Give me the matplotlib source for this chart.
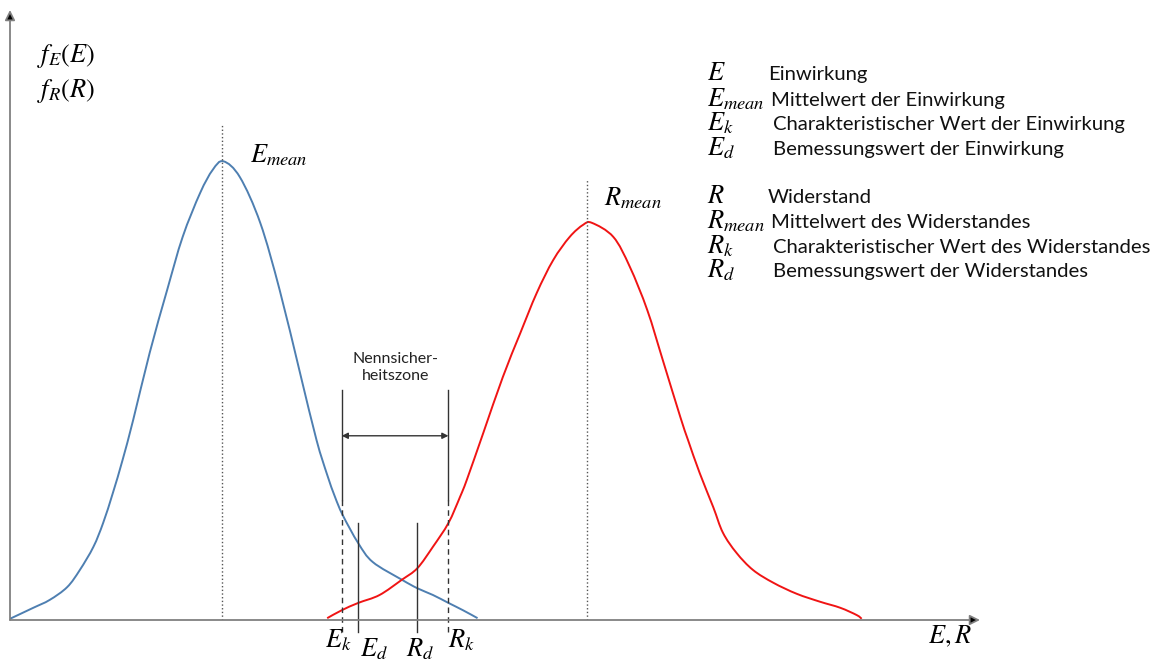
"""Einwirkung / Widerstand - Verteilungsdichten mit Nennsicherheitszone"""
import matplotlib
matplotlib.use("Agg")
import matplotlib.pyplot as plt
from matplotlib.path import Path
from matplotlib.patches import PathPatch

plt.rcParams['mathtext.fontset'] = 'stix'
plt.rcParams['font.family'] = ['Lato', 'DejaVu Sans']

# curve values (x in E,R units 0..100, y density)
e_x = [0, 2.4, 4.1, 5.9, 7.2, 8.6, 9.6, 10.6, 11.6, 12.7, 14.4, 16.2, 17.8, 19.6,
       20.9, 22.0, 23.7, 25.8, 27.8, 29.9, 31.6, 32.7, 33.5, 34.3, 35.9, 37.4, 40.4,
       42.0, 43.6, 45.2, 46.7, 48.2]
e_y = [0.002, 0.020, 0.033, 0.054, 0.082, 0.120, 0.159, 0.208, 0.262, 0.328, 0.438,
       0.541, 0.628, 0.700, 0.738, 0.752, 0.726, 0.651, 0.541, 0.405, 0.295, 0.238,
       0.202, 0.172, 0.126, 0.095, 0.066, 0.052, 0.041, 0.028, 0.016, 0.003]

r_x = [32.7, 34.2, 35.9, 38.1, 40.4, 42.0, 43.6, 45.2, 46.4, 47.1, 48.8, 50.8, 52.6,
       54.3, 56.0, 57.7, 59.1, 60.0, 62.2, 63.9, 65.7, 67.3, 69.1, 69.9, 71.1, 72.5,
       73.5, 74.9, 76.6, 78.7, 81.1, 83.5, 85.6, 87.3, 87.8]
r_y = [0.003, 0.016, 0.028, 0.041, 0.066, 0.085, 0.120, 0.159, 0.202, 0.230, 0.307,
       0.398, 0.470, 0.536, 0.590, 0.628, 0.648, 0.651, 0.628, 0.579, 0.508, 0.426,
       0.333, 0.295, 0.241, 0.185, 0.143, 0.110, 0.082, 0.061, 0.043, 0.030, 0.020,
       0.008, 0.002]

e_mean, r_mean = 21.9, 59.5
e_k, e_d, r_d, r_k = 34.2, 35.9, 42.0, 45.2

legend_sym = [r'$E$', r'$E_{mean}$', r'$E_k$', r'$E_d$',
              r'$R$', r'$R_{mean}$', r'$R_k$', r'$R_d$']
legend_txt = ['Einwirkung', 'Mittelwert der Einwirkung',
              'Charakteristischer Wert der Einwirkung', 'Bemessungswert der Einwirkung',
              'Widerstand', 'Mittelwert des Widerstandes',
              'Charakteristischer Wert des Widerstandes', 'Bemessungswert der Widerstandes']

W, H = 1172, 664


def px(x, y):
    return x / W, 1 - y / H


def smooth_path(xs, ys):
    # Catmull-Rom through the read points, drawn as cubic Bezier segments
    pts = list(zip(xs, ys))
    verts = [pts[0]]
    codes = [Path.MOVETO]
    for i in range(len(pts) - 1):
        p0 = pts[i - 1] if i > 0 else pts[i]
        p1, p2 = pts[i], pts[i + 1]
        p3 = pts[i + 2] if i + 2 < len(pts) else pts[i + 1]
        c1 = (p1[0] + (p2[0] - p0[0]) / 6, p1[1] + (p2[1] - p0[1]) / 6)
        c2 = (p2[0] - (p3[0] - p1[0]) / 6, p2[1] - (p3[1] - p1[1]) / 6)
        verts += [c1, c2, p2]
        codes += [Path.CURVE4] * 3
    return Path(verts, codes)


fig = plt.figure(figsize=(W / 100, H / 100), dpi=100)
ax = fig.add_axes([10 / W, (H - 620) / H, 970 / W, 610 / H])
ax.set_xlim(0, 100)
ax.set_ylim(0, 1)
ax.axis('off')

# axes with arrows
for tip in [(1.0, 0), (0, 1.0)]:
    ax.annotate('', xy=tip, xytext=(0, 0), xycoords='axes fraction',
                arrowprops=dict(arrowstyle='-|>', lw=1.3, mutation_scale=15,
                                shrinkA=0, shrinkB=0, fc='black', ec='#808080'))

ax.add_patch(PathPatch(smooth_path(e_x, e_y), fc='none', ec='#4e7fb1', lw=1.4))
ax.add_patch(PathPatch(smooth_path(r_x, r_y), fc='none', ec='#f01414', lw=1.4))

# mean lines
ax.plot([e_mean, e_mean], [0, 0.811], ':', color='#555555', lw=1)
ax.plot([r_mean, r_mean], [0, 0.721], ':', color='#555555', lw=1)

# characteristic / design values
for xv in (e_k, r_k):
    ax.plot([xv, xv], [0.197, 0.377], color='#333333', lw=1)
    ax.plot([xv, xv], [-0.02, 0.197], '--', color='#333333', lw=1, clip_on=False,
            dashes=(4, 3))
for xv in (e_d, r_d):
    ax.plot([xv, xv], [-0.02, 0.159], color='#333333', lw=1, clip_on=False)

ax.annotate('', xy=(r_k, 0.302), xytext=(e_k, 0.302),
            arrowprops=dict(arrowstyle='<|-|>', color='#333333', lw=1,
                            mutation_scale=9, shrinkA=0, shrinkB=0))
ax.text((e_k + r_k) / 2, 0.388, 'Nennsicher-\nheitszone', ha='center', va='bottom',
        fontsize=11.5, color='#222222', linespacing=1.3)

# labels on the curves and axes
fs_m = 19
fig.text(*px(37, 62), r'$f_E(E)$', fontsize=fs_m, va='baseline')
fig.text(*px(37, 97), r'$f_R(R)$', fontsize=fs_m, va='baseline')
fig.text(*px(250, 162), r'$E_{mean}$', fontsize=fs_m, va='baseline')
fig.text(*px(604, 205), r'$R_{mean}$', fontsize=fs_m, va='baseline')
fig.text(*px(325, 647), r'$E_k$', fontsize=fs_m, va='baseline')
fig.text(*px(360, 656), r'$E_d$', fontsize=fs_m, va='baseline')
fig.text(*px(406, 656), r'$R_d$', fontsize=fs_m, va='baseline')
fig.text(*px(448, 647), r'$R_k$', fontsize=fs_m, va='baseline')
fig.text(*px(928, 643), r'$E,R$', fontsize=fs_m, va='baseline')

# legend block
base_y = [80, 106, 130, 155, 203, 228, 253, 277]
txt_x = [768, 771, 773, 773, 768, 771, 773, 773]
for sym, txt, by, tx in zip(legend_sym, legend_txt, base_y, txt_x):
    fig.text(*px(707, by), sym, fontsize=fs_m, va='baseline')
    fig.text(*px(tx, by), txt, fontsize=14.6, va='baseline', color='#111111')

fig.savefig('out.png', dpi=100)
